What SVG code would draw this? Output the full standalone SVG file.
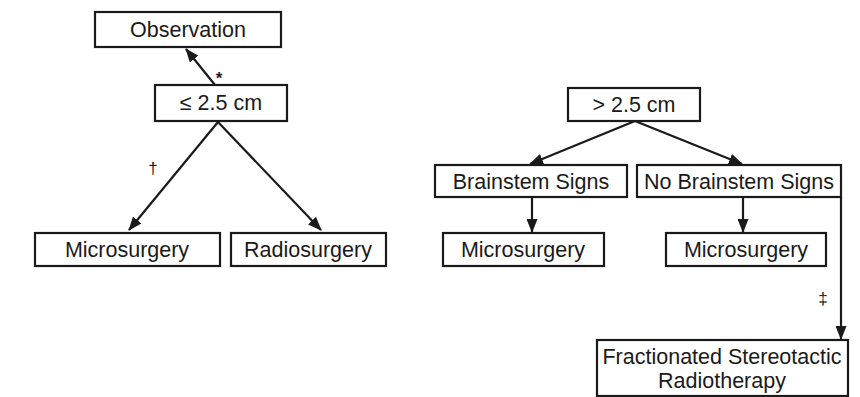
<svg xmlns="http://www.w3.org/2000/svg" width="860" height="397" viewBox="0 0 860 397">
<defs>
<style>
.box{fill:#fff;stroke:#1a1a1a;stroke-width:2.2}
.t{font-family:"Liberation Sans",Arial,sans-serif;font-size:21.5px;fill:#1a1a1a;text-anchor:middle}
.s{font-family:"Liberation Sans",Arial,sans-serif;font-size:17px;fill:#1a1a1a;text-anchor:middle}
.c{fill:none;stroke:#1a1a1a;stroke-width:2.2}
</style>
<marker id="ah" markerUnits="userSpaceOnUse" markerWidth="14" markerHeight="11" refX="13" refY="5.5" orient="auto">
<path d="M0,0 L14,5.5 L0,11 Z" fill="#1a1a1a"/>
</marker>
</defs>
<rect width="860" height="397" fill="#fff"/>
<g id="connectors">
<line class="c" x1="215" y1="85" x2="186" y2="49" marker-end="url(#ah)"/>
<line class="c" x1="218" y1="122" x2="129" y2="230" marker-end="url(#ah)"/>
<line class="c" x1="218" y1="122" x2="321" y2="230" marker-end="url(#ah)"/>
<line class="c" x1="635" y1="121" x2="530" y2="164" marker-end="url(#ah)"/>
<line class="c" x1="635" y1="121" x2="742" y2="164" marker-end="url(#ah)"/>
<line class="c" x1="532" y1="197" x2="532" y2="232" marker-end="url(#ah)"/>
<line class="c" x1="743" y1="197" x2="743" y2="232" marker-end="url(#ah)"/>
<line class="c" x1="841" y1="197" x2="841" y2="339" marker-end="url(#ah)"/>
<text class="s" x="219" y="84" font-weight="bold" font-size="22">*</text>
<text class="s" x="153" y="174">†</text>
<text class="s" x="823" y="304">‡</text>
</g>
<g id="observation"><rect class="box" x="95" y="12" width="186" height="35"/><text class="t" x="188" y="37">Observation</text></g>
<g id="small"><rect class="box" x="155" y="85" width="132" height="36"/><text class="t" x="221" y="110">≤ 2.5 cm</text></g>
<g id="micro1"><rect class="box" x="35" y="233" width="185" height="33"/><text class="t" x="127" y="257">Microsurgery</text></g>
<g id="radio"><rect class="box" x="231" y="233" width="155" height="33"/><text class="t" x="308" y="257">Radiosurgery</text></g>
<g id="large"><rect class="box" x="568" y="88" width="132" height="33"/><text class="t" x="634" y="112">&gt; 2.5 cm</text></g>
<g id="brainstem"><rect class="box" x="435" y="165" width="192" height="32"/><text class="t" x="531" y="189">Brainstem Signs</text></g>
<g id="nobrainstem"><rect class="box" x="637" y="165" width="204" height="32"/><text class="t" x="739" y="189">No Brainstem Signs</text></g>
<g id="micro2"><rect class="box" x="443" y="233" width="161" height="33"/><text class="t" x="523" y="257">Microsurgery</text></g>
<g id="micro3"><rect class="box" x="666" y="233" width="160" height="33"/><text class="t" x="746" y="257">Microsurgery</text></g>
<g id="fsr"><rect class="box" x="597" y="340" width="251" height="56"/><text class="t" x="722" y="364">Fractionated Stereotactic</text><text class="t" x="722" y="388">Radiotherapy</text></g>
</svg>
